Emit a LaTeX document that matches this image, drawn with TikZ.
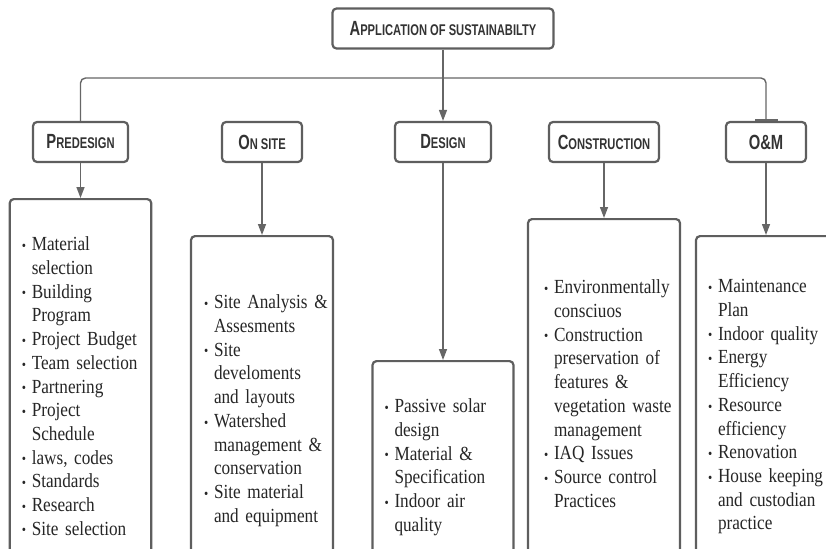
\documentclass[tikz,border=0pt]{standalone}
\usepackage{fontspec}
\setmainfont{Liberation Serif}[FakeStretch=0.86]
\newfontfamily\headfont{Liberation Sans}[FakeStretch=0.72]
\usetikzlibrary{arrows.meta, positioning}

\definecolor{linegray}{HTML}{666666}
\definecolor{boxgray}{HTML}{5E5E5E}
\definecolor{headtext}{HTML}{333333}
\definecolor{listtext}{HTML}{262626}

\newlength{\lpad}
% small caps by hand: first letter big, rest small
\newcommand{\hsc}[2]{{\fontsize{20.5}{22}\selectfont #1}{\fontsize{15.5}{17}\selectfont #2}}
% bullet line and continuation line of a list
\newcommand{\bi}[1]{\par\noindent\hspace*{\lpad}\makebox[10pt][l]{\raisebox{0.3pt}{\fontsize{14}{14}\selectfont\textbullet}}#1}
\newcommand{\bc}[1]{\par\noindent\hspace*{\lpad}\hspace*{10pt}#1}

\begin{document}
\begin{tikzpicture}[x=1pt, y=-1pt,
  head/.style={draw=boxgray, line width=2.2pt, rounded corners=4pt, fill=white,
    text=headtext, font=\headfont\bfseries, minimum height=40pt, inner sep=0pt},
  listbox/.style={draw=boxgray, line width=2.2pt, rounded corners=4pt, fill=white,
    text=listtext, anchor=north, inner xsep=0pt,
    font=\fontsize{20}{23.7}\selectfont, execute at begin node={\setlength{\lpad}{#1}}},
  link/.style={draw=linegray, line width=1.4pt, -{Triangle[length=11pt,width=8pt]}}]
  \useasboundingbox (0,0) rectangle (826,548);
  \clip (0,0) rectangle (826,548);

  % top and phase boxes
  \node[head, minimum width=221pt] (app) at (443,28.5) {\hsc{A}{PPLICATION OF SUSTAINABILTY}};
  \node[head, minimum width=95pt] (pre) at (80.5,142) {\hsc{P}{REDESIGN}};
  \node[head, minimum width=80pt] (site) at (262,142) {\hsc{O}{N SITE}};
  \node[head, minimum width=96pt] (des) at (443,142) {\hsc{D}{ESIGN}};
  \node[head, minimum width=110pt] (con) at (604,142) {\hsc{C}{ONSTRUCTION}};
  \node[head, minimum width=80pt] (om) at (766,142) {{\fontsize{20.5}{22}\selectfont O\&M}};

  \coordinate (bus) at (443,78);
  \draw[draw=linegray, line width=1.4pt, rounded corners=5pt, -{Bar[width=23pt]}]
    (pre.north) |- (bus) -| (om.north);
  \draw[link] (app.south) -- (des.north);

  % lists
  \node[listbox=12pt, text width=141.5pt, inner ysep=28pt] (preL) at (80.5,198) {%
    \bi{Material}\bc{selection}\bi{Building}\bc{Program}\bi{Project~Budget}%
    \bi{Team~selection}\bi{Partnering}\bi{Project}\bc{Schedule}\bi{laws,~codes}%
    \bi{Standards}\bi{Research}\bi{Site~selection}};
  \node[listbox=13pt, text width=142pt, inner ysep=49pt] (siteL) at (262,235) {%
    \bi{Site~Analysis~\&}\bc{Assesments}\bi{Site}\bc{develoments}\bc{and~layouts}%
    \bi{Watershed}\bc{management~\&}\bc{conservation}\bi{Site~material}\bc{and~equipment}};
  \node[listbox=12pt, text width=141pt, inner ysep=28pt] (desL) at (443,360) {%
    \bi{Passive~solar}\bc{design}\bi{Material~\&}\bc{Specification}\bi{Indoor~air}\bc{quality}};
  \node[listbox=16pt, text width=152pt, inner ysep=51pt] (conL) at (604,218) {%
    \bi{Environmentally}\bc{consciuos}\bi{Construction}\bc{preservation~of}%
    \bc{features~\&}\bc{vegetation~waste}\bc{management}\bi{IAQ~Issues}%
    \bi{Source~control}\bc{Practices}};
  \node[listbox=12pt, text width=140pt, inner ysep=33pt] (omL) at (766,235) {%
    \bi{Maintenance}\bc{Plan}\bi{Indoor~quality}\bi{Energy}\bc{Efficiency}%
    \bi{Resource}\bc{efficiency}\bi{Renovation}\bi{House~keeping}%
    \bc{and~custodian}\bc{practice}};

  \draw[link] (pre.south) -- (preL.north);
  \draw[link] (site.south) -- (siteL.north);
  \draw[link] (des.south) -- (desL.north);
  \draw[link] (con.south) -- (conL.north);
  \draw[link] (om.south) -- (omL.north);
\end{tikzpicture}
\end{document}
